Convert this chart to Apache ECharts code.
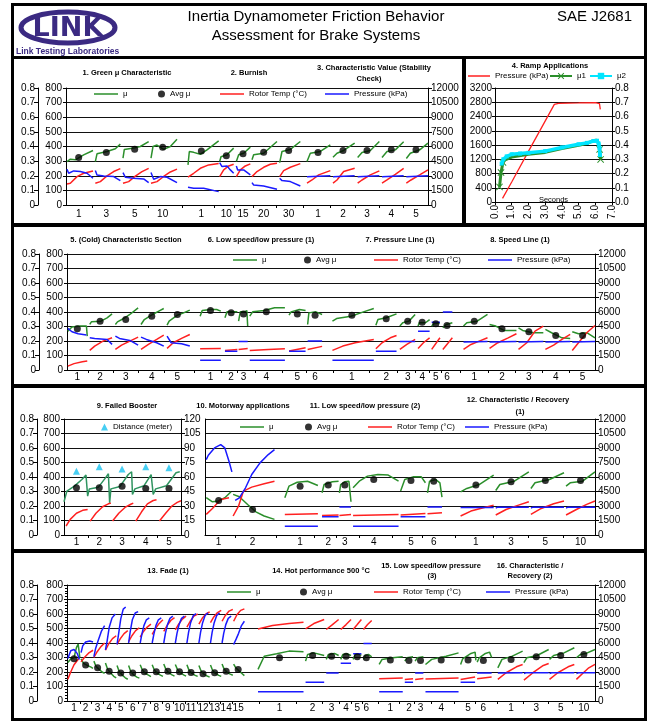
<!DOCTYPE html>
<html><head><meta charset="utf-8">
<script src="https://cdn.jsdelivr.net/npm/echarts@6/dist/echarts.min.js"></script>
<style>html,body{margin:0;padding:0;background:#fff}#c{width:649px;height:723px}</style>
</head><body><div id="c"></div>
<script>
// ===== DATA (x = position along the test sequence, in sample units per row) =====
// Row 1: sections 1-3
const r1Labels = ['1','3','5','10','1','10','15','20','30','1','2','3','4','5'];
const r1LabelPos = [235,318,403,487,603,678,728,790,865,953,1028,1100,1173,1247];
const r1AvgMu = [.325,.359,.382,.395,.370,.336,.350,.361,.373,.359,.373,.373,.377,.377];
const r1Mu = [
 [200,.297,210,.313,225,.309,250,.343,278,.373],
 [285,.297,290,.350,320,.366,345,.385,360,.416],
 [368,.320,372,.380,400,.389,420,.400,445,.434],
 [452,.320,458,.400,470,.410,490,.380,510,.400,530,.450],
 [563,.274,567,.366,580,.360,600,.347,620,.377,655,.439],
 [658,.297,662,.330,680,.343,700,.389],
 [708,.297,715,.343,730,.354,750,.396],
 [755,.309,760,.343,790,.354,830,.434],
 [838,.290,845,.366,870,.380,900,.434],
 [920,.297,930,.354,960,.366,990,.411],
 [998,.327,1010,.354,1030,.373,1063,.423],
 [1072,.325,1085,.359,1110,.373,1137,.434],
 [1145,.325,1160,.366,1185,.377,1210,.432],
 [1218,.318,1230,.354,1260,.380,1283,.423]];
const r1Temp = [
 [200,144,210,149,230,194,250,217,278,233],
 [285,149,300,160,320,199,340,229,360,249],
 [368,149,385,160,405,197,425,228,445,250],
 [452,149,470,160,490,195,510,226,530,245],
 [563,190,580,217,600,251,625,274,655,283],
 [658,194,670,240,685,267,700,279],
 [708,194,720,240,735,267,750,281],
 [755,194,770,229,790,258,810,279,830,286],
 [838,194,850,235,870,258,900,283],
 [920,149,935,171,955,206,990,235],
 [998,149,1010,171,1030,229,1063,251],
 [1072,149,1085,171,1110,206,1137,233],
 [1145,149,1160,171,1185,210,1210,251],
 [1218,149,1232,171,1258,206,1283,240]];
const r1Pres = [
 [200,3669,205,3257,220,3497,240,3429,260,3257,278,2743],
 [285,3531,290,3086,310,2983,340,2914,360,2503],
 [368,3326,375,2846,400,2743,430,2674,445,2297],
 [452,3326,460,2640,480,2914,500,2846,530,2297],
 [563,1817,580,1714,610,1714,655,1371],
 [658,4354,665,3943,680,4011,690,3600,700,3257],
 [708,4011,712,3600,730,3600,750,3086],
 [755,2297,760,2057,790,1954,830,1611],
 [838,2743,845,2503,870,2400,900,1954],
 [920,2900,925,3000,990,3000],
 [998,2900,1003,3000,1063,3000],
 [1072,2900,1077,3000,1137,3000],
 [1145,2900,1150,3000,1210,3000],
 [1218,2900,1223,3000,1283,3000]];

// Row 2: sections 5-8
const r2Labels = ['1','2','3','4','5','1','2','3','4','5','6','1','2','3','4','5','6','1','2','3','4','5'];
const r2LabelPos = [188,243,305,368,430,510,560,590,645,720,763,852,935,987,1022,1055,1082,1148,1215,1280,1345,1410];
const r2AvgMu = [.284,.337,.348,.371,.383,.410,.394,.387,.401,.387,.378,.378,.353,.337,.330,.319,.307,.337,.284,.264,.238,.238];
const r2Mu = [
 [165,.268,175,.296,195,.303,210,.303,212,.234],
 [218,.314,222,.332,245,.337,260,.360,272,.387],
 [280,.314,285,.332,300,.355,315,.383,335,.429],
 [342,.314,350,.348,370,.383,385,.406,397,.424],
 [405,.309,410,.337,430,.378,445,.394,460,.413],
 [485,.371,490,.410,510,.417,525,.417,535,.406],
 [545,.360,550,.401,565,.401,575,.401],
 [578,.337,582,.401,592,.401,598,.410,600,.303],
 [605,.371,612,.401,640,.410,665,.429,690,.429],
 [700,.378,705,.401,725,.417,740,.410],
 [745,.314,748,.394,765,.401,780,.383],
 [805,.337,815,.355,850,.371,880,.401,905,.424],
 [910,.309,915,.348,935,.360,960,.387],
 [968,.303,975,.326,990,.337,1005,.383],
 [1012,.303,1015,.326,1030,.326,1040,.348],
 [1045,.303,1050,.319,1065,.326],
 [1072,.291,1080,.314,1095,.326],
 [1122,.303,1130,.326,1155,.337,1180,.383],
 [1185,.314,1200,.303,1220,.273,1250,.273],
 [1255,.291,1265,.273,1290,.257,1315,.257],
 [1320,.280,1335,.257,1360,.222,1380,.218],
 [1385,.264,1400,.250,1420,.257,1440,.222]];
const r2Temp = [
 [165,27,180,44,200,57,212,62],
 [218,135,230,165,250,199,272,222],
 [280,142,295,172,315,199,335,227],
 [342,142,360,176,380,211,397,241],
 [405,149,420,188,440,218,460,245],
 [485,147,535,149],[545,135,575,142],[578,142,600,149],
 [605,135,650,142,690,147],[700,131,740,154],[745,142,780,163],
 [805,135,830,165,860,188,905,211],
 [910,147,925,188,945,222,960,238],
 [968,142,985,176,1005,211],
 [1012,149,1025,188,1040,222],
 [1045,142,1065,222],[1072,142,1095,222],
 [1122,142,1140,176,1160,199,1180,222],
 [1185,149,1205,188,1230,222,1250,250],
 [1255,142,1275,188,1295,268,1315,303],
 [1320,142,1340,172,1360,211,1380,245],
 [1385,135,1400,188,1420,257,1440,307]];
const r2Pres = [
 [165,4298,175,3954,190,3748,210,3610],
 [218,3335,230,3266,260,3163,272,2648],
 [280,3507,290,3266,315,3060,335,2579],
 [342,3404,355,3163,380,2819,397,2476],
 [405,3507,415,2819,440,2716,460,2476],
 [485,1000,535,1000],[545,1950,575,1950],[578,2950,600,2950],
 [605,1000,690,1000],[700,1950,740,1950],[745,3000,780,3000],
 [805,1000,905,1000],[910,1950,960,1950],[968,2950,1005,2950],
 [1012,4000,1040,4000],[1045,4950,1065,4950],[1072,6000,1095,6000],
 [1122,2900,1180,2950],[1185,2900,1250,2950],[1255,2900,1315,2950],
 [1320,2900,1380,2950],[1385,2900,1440,2950]];

// Row 3, panel 9: failed booster
const p9Labels = ['1','2','3','4','5'];
const p9LabelPos = [185,240,295,352,408];
const p9AvgMu = [.326,.326,.337,.321,.321];
const p9Distance = [66.0,70.5,68.4,70.5,69.5];
const p9Mu = [[155,.229,162,.303,180,.337,198,.383,208,.413,212,.268,216,.318,238,.330,255,.394,262,.422,265,.222,268,.318,290,.335,310,.417,318,.436,320,.280,326,.318,348,.340,365,.417,370,.280,376,.318,402,.340,425,.429,434,.436]];
const p9Temp = [
 [160,62,170,108,185,150,200,170,212,176],
 [218,96,232,150,248,195,262,215,268,220],
 [272,96,287,150,302,190,316,212,322,220],
 [328,96,342,160,356,215,370,238,378,243],
 [385,96,400,150,415,200,428,225,437,236]];

// Row 3, panels 10-12
const p3Labels = ['1','2','1','2','3','4','5','6','1','3','5','10'];
const p3LabelPos = [530,612,727,795,835,905,995,1050,1152,1237,1320,1405];
const p3AvgMu = [.238,.176,.337,.344,.344,.383,.376,.371,.344,.367,.376,.376];
const p3Mu = [
 [500,.257,515,.229,530,.235,545,.257,560,.298],
 [565,.280,580,.264,600,.210,620,.160,640,.131,665,.108],
 [690,.257,700,.337,720,.364,745,.371,770,.341],
 [780,.291,785,.348,805,.367,820,.371],
 [822,.291,825,.348,835,.367,845,.371,850,.229],
 [855,.326,870,.371,890,.406,915,.417,940,.413,965,.371],
 [970,.303,980,.383,1000,.401,1020,.401,1030,.360],
 [1035,.291,1040,.371,1055,.383,1065,.360,1070,.261],
 [1115,.298,1130,.321,1160,.348,1195,.413],
 [1200,.307,1210,.348,1245,.371,1280,.436],
 [1285,.321,1295,.360,1330,.383,1365,.429],
 [1370,.337,1380,.360,1410,.371,1440,.436]];
const p3Temp = [
 [500,142,515,183,535,245,555,257],
 [565,131,578,199,590,303,610,330,640,353,665,371],
 [690,142,770,147],[780,135,820,138],[822,135,850,142],
 [855,135,965,142],[970,138,1030,149],[1035,147,1070,154],
 [1115,131,1140,165,1170,188,1195,206],
 [1200,138,1225,176,1255,206,1280,229],
 [1285,142,1310,183,1340,215,1365,234],
 [1370,138,1395,176,1420,211,1440,234]];
const p3Pres = [
 [500,7805,505,8252,520,9008,535,9352,545,9008,555,7633,562,6533],
 [570,3576,580,3851,595,4882,610,6258,630,7461,650,8321,665,8836],
 [690,900,770,900],[780,1900,820,1900],[822,2900,850,2900],
 [855,900,965,900],[970,1900,1030,1900],[1035,2900,1070,2900],
 [1115,2850,1195,2850],[1200,2800,1205,2880,1280,2880],
 [1285,2800,1290,2880,1365,2880],[1370,2800,1375,2880,1440,2880]];

// Row 4: sections 13-16
const r4Labels = ['1','2','3','4','5','6','7','8','9','10','11','12','13','14','15','1','2','3','4','5','6','1','2','3','4','5','6','1','3','5','10'];
const r4LabelPos = [180,208,237,265,293,322,350,379,407,435,463,492,520,548,577,677,757,803,838,865,887,945,990,1018,1068,1133,1170,1237,1298,1357,1413];
const r4AvgMu = [.291,.248,.229,.206,.193,.193,.202,.202,.206,.202,.197,.188,.195,.206,.218,.298,.314,.309,.309,.305,.298,.282,.280,.280,.282,.282,.280,.287,.305,.314,.321];
const r4Mu = [
 [165,.265,172,.290,180,.300,186,.370,190,.392,194,.300],
 [197,.290,203,.260,212,.245,220,.235,226,.225],
 [228,.275,233,.240,240,.220,248,.200,254,.190],
 [256,.262,261,.220,268,.195,276,.170,282,.160],
 [284,.245,289,.205,296,.180,304,.160,310,.150],
 [312,.245,317,.205,324,.180,332,.165,338,.158],
 [340,.250,345,.215,352,.192,360,.178,366,.168],
 [369,.250,374,.215,381,.192,389,.178,395,.170],
 [397,.255,402,.220,409,.195,417,.180,423,.172],
 [425,.252,430,.218,437,.195,445,.180,451,.172],
 [453,.250,458,.213,465,.190,473,.177,479,.170],
 [482,.245,487,.208,494,.185,502,.172,508,.165],
 [510,.248,515,.212,522,.190,530,.177,536,.170],
 [538,.255,543,.220,550,.198,558,.185,564,.178],
 [566,.255,571,.230,578,.210,586,.190,592,.175],
 [625,.218,640,.309,670,.326,700,.344,735,.339],
 [740,.275,745,.321,760,.332,785,.314],
 [790,.287,795,.321,810,.328,820,.314],
 [825,.287,830,.321,840,.326,850,.314],
 [855,.287,860,.321,868,.326,875,.314],
 [880,.287,885,.316,892,.321,900,.305],
 [918,.252,925,.287,950,.298,975,.305],
 [980,.275,985,.298,1000,.305],
 [1005,.275,1010,.298,1025,.305],
 [1030,.252,1045,.287,1080,.309,1110,.332],
 [1115,.252,1120,.291,1140,.328,1150,.337,1152,.280],
 [1155,.268,1160,.298,1175,.328,1185,.337,1190,.300],
 [1205,.229,1215,.287,1240,.309,1265,.344],
 [1268,.264,1275,.298,1300,.314,1328,.355],
 [1330,.287,1340,.314,1365,.332,1390,.367],
 [1395,.298,1405,.321,1420,.330,1440,.355]];
const r4Temp = [
 [165,150,172,200,180,250,192,295],
 [197,270,205,300,215,330,226,350],
 [228,300,236,340,245,375,254,400],
 [256,350,264,395,273,430,282,450],
 [284,390,292,430,301,465,310,485],
 [312,410,320,450,329,485,338,505],
 [340,440,348,480,357,510,366,530],
 [369,460,377,500,386,535,395,560],
 [397,480,405,520,414,555,423,575],
 [425,490,433,530,442,565,451,585],
 [453,510,461,550,470,585,479,600],
 [482,530,490,570,499,600,508,615],
 [510,540,518,580,527,610,536,625],
 [538,550,546,590,555,620,564,632],
 [566,550,574,595,583,625,592,635],
 [625,497,660,520,700,534,735,543],
 [740,497,760,534,785,562],
 [790,493,805,527,820,562],
 [825,493,838,527,850,562],
 [855,493,865,527,875,562],
 [880,493,890,527,900,555],
 [918,154,975,158],[980,149,1000,153],[1005,149,1025,155],
 [1030,151,1110,158],[1115,149,1150,165],[1155,154,1190,165],
 [1205,149,1225,195,1250,236,1265,252],
 [1268,144,1290,195,1315,245,1328,259],
 [1330,149,1350,195,1375,236,1390,252],
 [1395,149,1410,190,1425,229,1440,252]];
const r4Pres = [
 [165,4400,172,5200,180,5330,188,4900,193,4300],
 [197,5000,201,5700,208,6100,218,6200,226,6100],
 [228,4600,232,5400,238,6200,246,7200,254,7800],
 [256,5300,260,6200,265,7600,272,8600,280,9000],
 [284,5850,288,7000,293,8500,299,9500,305,9730],
 [312,6000,316,7200,321,8400,328,9100,335,9250],
 [340,6000,344,6900,349,7800,355,8400,362,8600],
 [369,6000,373,6900,378,7800,384,8400,391,8600],
 [397,6000,401,7000,406,7900,412,8550,419,8770],
 [425,6000,429,7000,434,7900,440,8550,447,8770],
 [453,6000,457,7100,462,8100,468,8800,475,9040],
 [482,6000,486,7100,491,8100,497,8850,504,9110],
 [510,6000,514,7100,519,8100,525,8850,532,9110],
 [538,6000,542,7000,547,7900,553,8550,560,8770],
 [566,5850,572,6400,578,7000,585,7800,592,8250],
 [625,950,735,950],[740,1950,785,1950],[790,2900,820,2900],
 [825,3900,850,3900],[855,4900,875,4900],[880,5950,900,5950],
 [918,950,975,950],[980,1950,1000,1950],[1005,2900,1025,2900],
 [1030,950,1110,950],[1115,1950,1150,1950],[1155,2900,1190,2900],
 [1205,2900,1265,2920],[1268,2850,1273,2920,1328,2920],
 [1330,2850,1335,2920,1390,2920],[1395,2850,1400,2920,1440,2920]];

// Panel 4: ramp applications (time in seconds)
const rampPresT = [0.45,1.0,2.0,3.0,3.55,3.8,5.0,6.0,6.25,6.3];
const rampPres  = [100,560,1420,2270,2740,2770,2780,2790,2760,2600];
const rampMu1T  = [0.27,0.36,0.48,0.6,1.0,2.0,3.0,4.0,5.0,5.5,5.9,6.1,6.2,6.26,6.32];
const rampMu1   = [0.106,0.207,0.278,0.295,0.315,0.335,0.348,0.375,0.398,0.41,0.432,0.433,0.41,0.369,0.299];
const rampMu2T  = [0.4,0.5,0.7,1.0,1.5,2.0,3.0,4.0,5.0,5.5,5.9,6.1,6.2,6.25,6.28];
const rampMu2   = [0.27,0.30,0.32,0.335,0.34,0.345,0.357,0.383,0.405,0.415,0.428,0.43,0.41,0.38,0.33];

// ===== BUILD =====
const FONT = "'Liberation Sans', Arial, sans-serif";
const GREEN='#2b8f2b', RED='#ff2020', BLUE='#1a1aff', CYAN='#00e5ff', INK='#3b2a82';
const option = {animation:false, backgroundColor:'#fff', textStyle:{fontFamily:FONT},
  grid:[], xAxis:[], yAxis:[], series:[], legend:[], graphic:[]};

function segData(segs){
  const out=[];
  segs.forEach((s,i)=>{ if(i) out.push(['-','-']); for(let k=0;k<s.length;k+=2) out.push([s[k],s[k+1]]); });
  return out;
}
const plain = (v)=>String(v);
const lbl = (m)=>({fontSize:10,color:'#000',fontFamily:FONT,margin:m,formatter:plain});
const blk = {color:'#000',width:1};

function buildRow(r){
  const gi=option.grid.length;
  option.grid.push({left:r.left,top:r.top,width:r.width,height:r.height});
  const xi=option.xAxis.length;
  const mids=r.labelPos.slice(1).map((v,i)=>(v+r.labelPos[i])/2);
  option.xAxis.push({type:'value',gridIndex:gi,min:r.xmin,max:r.xmax,
    axisLine:{show:true,onZero:false,lineStyle:blk},
    axisTick:{show:true,customValues:mids,length:3,lineStyle:blk},
    axisLabel:Object.assign(lbl(r.xMargin||2),{customValues:r.labelPos,formatter:(v)=>{const k=r.labelPos.indexOf(v);return k<0?'':r.labels[k];}}),
    splitLine:{show:false}});
  const yMu=option.yAxis.length;
  const showMu = r.muX!=null;
  option.yAxis.push({type:'value',gridIndex:gi,min:0,max:0.8,interval:0.1,position:'left',offset:showMu?(r.left-r.muX):0,
    axisLine:{show:true,onZero:false,lineStyle:blk},
    axisTick:{show:showMu,length:4,lineStyle:blk},
    axisLabel:Object.assign(lbl(3),{show:showMu}),
    splitLine:{show:true,lineStyle:{color:'#111',width:1}}});
  const yT=option.yAxis.length;
  option.yAxis.push({type:'value',gridIndex:gi,min:0,max:800,interval:100,position:'left',offset:0,show:r.showTemp!==false,
    axisLine:{show:true,onZero:false,lineStyle:blk},
    axisTick:{show:true,length:3,lineStyle:blk},
    minorTick:{show:!!r.minor,splitNumber:5,length:2,lineStyle:blk},
    axisLabel:lbl(4),splitLine:{show:false}});
  let yR=null;
  if(r.rMax){
    yR=option.yAxis.length;
    option.yAxis.push({type:'value',gridIndex:gi,min:0,max:r.rMax,interval:r.rInt,position:'right',
      axisLine:{show:true,onZero:false,lineStyle:blk},
      axisTick:{show:true,length:4,lineStyle:blk},
      axisLabel:lbl(3),splitLine:{show:false}});
  }
  const col=r.muColor||GREEN;
  option.series.push({type:'line',name:'μ',xAxisIndex:xi,yAxisIndex:yMu,data:segData(r.mu),symbol:'none',
    lineStyle:{color:col,width:1.5},itemStyle:{color:col},silent:true,z:3});
  option.series.push({type:'line',name:'Rotor Temp (°C)',xAxisIndex:xi,yAxisIndex:yT,data:segData(r.temp),symbol:'none',
    lineStyle:{color:RED,width:1.5},itemStyle:{color:RED},silent:true,z:4});
  if(r.pres) option.series.push({type:'line',name:'Pressure (kPa)',xAxisIndex:xi,yAxisIndex:yR,data:segData(r.pres),symbol:'none',
    lineStyle:{color:BLUE,width:1.5},itemStyle:{color:BLUE},silent:true,z:4});
  option.series.push({type:'scatter',name:'Avg μ',xAxisIndex:xi,yAxisIndex:yMu,data:r.labelPos.map((x,i)=>[x,r.avgMu[i]]),
    symbolSize:7,itemStyle:{color:'#000'},silent:true,z:6});
  return {gi,xi,yMu,yT,yR};
}

buildRow({left:66,top:88,width:362,height:117,xmin:197,xmax:1283,muX:38,xMargin:4,rMax:12000,rInt:1500,
  labels:r1Labels,labelPos:r1LabelPos,avgMu:r1AvgMu,mu:r1Mu,temp:r1Temp,pres:r1Pres});
buildRow({left:67,top:254,width:528,height:116,xmin:163,xmax:1440,muX:39,rMax:12000,rInt:1500,
  labels:r2Labels,labelPos:r2LabelPos,avgMu:r2AvgMu,mu:r2Mu,temp:r2Temp,pres:r2Pres});
const p9 = buildRow({left:64,top:419,width:117,height:116,xmin:155,xmax:437,muX:37,rMax:120,rInt:15,muColor:'#2f9460',
  labels:p9Labels,labelPos:p9LabelPos,avgMu:p9AvgMu,mu:p9Mu,temp:p9Temp,pres:null});
option.series.push({type:'scatter',name:'Distance (meter)',xAxisIndex:p9.xi,yAxisIndex:p9.yR,
  data:p9LabelPos.map((x,i)=>[x,p9Distance[i]]),symbol:'triangle',symbolSize:7,itemStyle:{color:'#19c2f0'},silent:true,z:6});
buildRow({left:205,top:419,width:390,height:116,xmin:497,xmax:1440,muX:null,showTemp:false,rMax:12000,rInt:1500,
  labels:p3Labels,labelPos:p3LabelPos,avgMu:p3AvgMu,mu:p3Mu,temp:p3Temp,pres:p3Pres});
buildRow({left:67,top:585,width:528,height:116,xmin:163,xmax:1440,muX:37,minor:true,rMax:12000,rInt:1500,
  labels:r4Labels,labelPos:r4LabelPos,avgMu:r4AvgMu,mu:r4Mu,temp:r4Temp,pres:r4Pres});

// Panel 4
(function(){
  const gi=option.grid.length;
  option.grid.push({left:495,top:88,width:117,height:114});
  const xi=option.xAxis.length;
  option.xAxis.push({type:'value',gridIndex:gi,min:0,max:7,interval:1,
    axisLine:{show:true,onZero:false,lineStyle:blk},axisTick:{show:true,length:3,lineStyle:blk},
    axisLabel:Object.assign(lbl(3),{rotate:90,formatter:(v)=>v.toFixed(1)}),splitLine:{show:false},
    name:'Seconds',nameLocation:'middle',nameGap:-6,nameMoveOverlap:false,nameTextStyle:{fontSize:7.5,color:'#000',fontFamily:FONT}});
  const yL=option.yAxis.length;
  option.yAxis.push({type:'value',gridIndex:gi,min:0,max:3200,interval:400,position:'left',
    axisLine:{show:true,onZero:false,lineStyle:blk},axisTick:{show:true,length:3,lineStyle:blk},
    axisLabel:lbl(3),splitLine:{show:true,lineStyle:{color:'#111',width:1}}});
  const yR=option.yAxis.length;
  option.yAxis.push({type:'value',gridIndex:gi,min:0,max:0.8,interval:0.1,position:'right',
    axisLine:{show:true,onZero:false,lineStyle:blk},axisTick:{show:true,length:3,lineStyle:blk},
    axisLabel:Object.assign(lbl(3),{formatter:(v)=>v.toFixed(1)}),splitLine:{show:false}});
  const XS='path://M0,1L1,0L5,4L9,0L10,1L6,5L10,9L9,10L5,6L1,10L0,9L4,5Z';
  const mk1=[0,1,2,13,14];
  option.series.push({type:'line',name:'Pressure (kPa) ',xAxisIndex:xi,yAxisIndex:yL,
    data:rampPresT.map((t,i)=>[t,rampPres[i]]),symbol:'none',lineStyle:{color:RED,width:1.3},itemStyle:{color:RED},silent:true,z:3});
  option.series.push({type:'line',name:'μ1',xAxisIndex:xi,yAxisIndex:yR,symbol:XS,symbolSize:7,
    data:rampMu1T.map((t,i)=>({value:[t,rampMu1[i]],symbol:mk1.indexOf(i)>=0?XS:'none'})),
    lineStyle:{color:GREEN,width:3},itemStyle:{color:GREEN},silent:true,z:4});
  option.series.push({type:'line',name:'μ2',xAxisIndex:xi,yAxisIndex:yR,symbol:'rect',symbolSize:4,showSymbol:true,
    data:rampMu2T.map((t,i)=>[t,rampMu2[i]]),
    lineStyle:{color:CYAN,width:3.5},itemStyle:{color:CYAN},silent:true,z:5});
  const ts={fontSize:8,color:'#000',fontFamily:FONT};
  option.legend.push({data:[{name:'Pressure (kPa) ',icon:'rect'}],left:468,top:72,itemWidth:22,itemHeight:1.5,padding:0,selectedMode:false,textStyle:ts});
  option.legend.push({data:['μ1'],left:549,top:72,itemWidth:22,itemHeight:8,padding:0,selectedMode:false,textStyle:ts});
  option.legend.push({data:['μ2'],left:589,top:72,itemWidth:22,itemHeight:8,padding:0,selectedMode:false,textStyle:ts});
})();

// Row legends
function rowLegend(cy, xs){
  const ts={fontSize:8,color:'#000',fontFamily:FONT};
  option.legend.push({data:[{name:'μ',icon:'rect'}],left:xs[0],top:cy-5,itemWidth:24,itemHeight:1.5,padding:0,selectedMode:false,textStyle:ts});
  option.legend.push({data:[{name:'Avg μ',icon:'circle'}],left:xs[1],top:cy-5,itemWidth:7,itemHeight:7,padding:0,selectedMode:false,textStyle:ts,itemGap:0});
  option.legend.push({data:[{name:'Rotor Temp (°C)',icon:'rect'}],left:xs[2],top:cy-5,itemWidth:24,itemHeight:1.5,padding:0,selectedMode:false,textStyle:ts});
  option.legend.push({data:[{name:'Pressure (kPa)',icon:'rect'}],left:xs[3],top:cy-5,itemWidth:24,itemHeight:1.5,padding:0,selectedMode:false,textStyle:ts});
}
rowLegend(95,[94,158,220,325]);
rowLegend(261,[233,304,374,488]);
rowLegend(428,[240,305,368,465]);
rowLegend(593,[227,300,374,486]);
option.legend.push({data:[{name:'Distance (meter)',icon:'triangle'}],left:101,top:423,itemWidth:7,itemHeight:7,padding:0,selectedMode:false,textStyle:{fontSize:8,color:'#000',fontFamily:FONT}});

// Frame, header and section titles
const G=option.graphic;
G.push({type:'rect',shape:{x:11,y:3,width:636,height:718},style:{fill:'#000'},z:-20,silent:true});
[[14,6,630,50],[14,59,448,164],[466,59,178,164],[14,227,630,157],[14,388,630,161],[14,553,630,165]].forEach(p=>
  G.push({type:'rect',shape:{x:p[0],y:p[1],width:p[2],height:p[3]},style:{fill:'#fff'},z:-19,silent:true}));
G.push({type:'ellipse',shape:{cx:68,cy:27.5,rx:47,ry:15.5},style:{fill:'#fff',stroke:INK,lineWidth:5},z:5});
G.push({type:'text',x:68,y:28.5,style:{text:'LINK',font:"bold 27px 'DejaVu Sans'",fill:INK,align:'center',verticalAlign:'middle'},z:6});
G.push({type:'text',x:16,y:52,style:{text:'Link Testing Laboratories',font:"bold 8.5px 'Liberation Sans'",fill:INK,align:'left',verticalAlign:'middle'},z:6});
function txt(t,x,y,font,align){G.push({type:'text',x:x,y:y,style:{text:t,font:font,fill:'#000',align:align||'center',verticalAlign:'middle'},z:6});}
const HF="15px 'Liberation Sans'";
txt('Inertia Dynamometer Friction Behavior',316,17,HF);
txt('Assessment for Brake Systems',316,36,HF);
txt('SAE J2681',557,17,HF,'left');
const TF="bold 7.5px 'Liberation Sans'";
[['1. Green μ Characteristic',127,73],['2. Burnish',249,73],['3. Characteristic Value (Stability',374,68],['Check)',369,79],
 ['4. Ramp Applications',550,66],
 ['5. (Cold) Characteristic Section',126,240],['6. Low speed/low pressure (1)',261,240],['7. Pressure Line (1)',400,240],['8. Speed Line (1)',520,240],
 ['9. Failed Booster',127,406],['10. Motorway applications',243,406],['11. Low speed/low pressure (2)',365,406],['12. Characteristic / Recovery',518,400],['(1)',520,412],
 ['13. Fade (1)',168,571],['14. Hot performance 500 °C',321,571],['15. Low speed/low pressure',431,566],['(3)',432,576],['16. Characteristic /',530,566],['Recovery (2)',530,576]
].forEach(a=>txt(a[0],a[1],a[2],TF));

const chart=echarts.init(document.getElementById('c'),null,{renderer:'canvas',width:649,height:723});
chart.setOption(option);
</script></body></html>
